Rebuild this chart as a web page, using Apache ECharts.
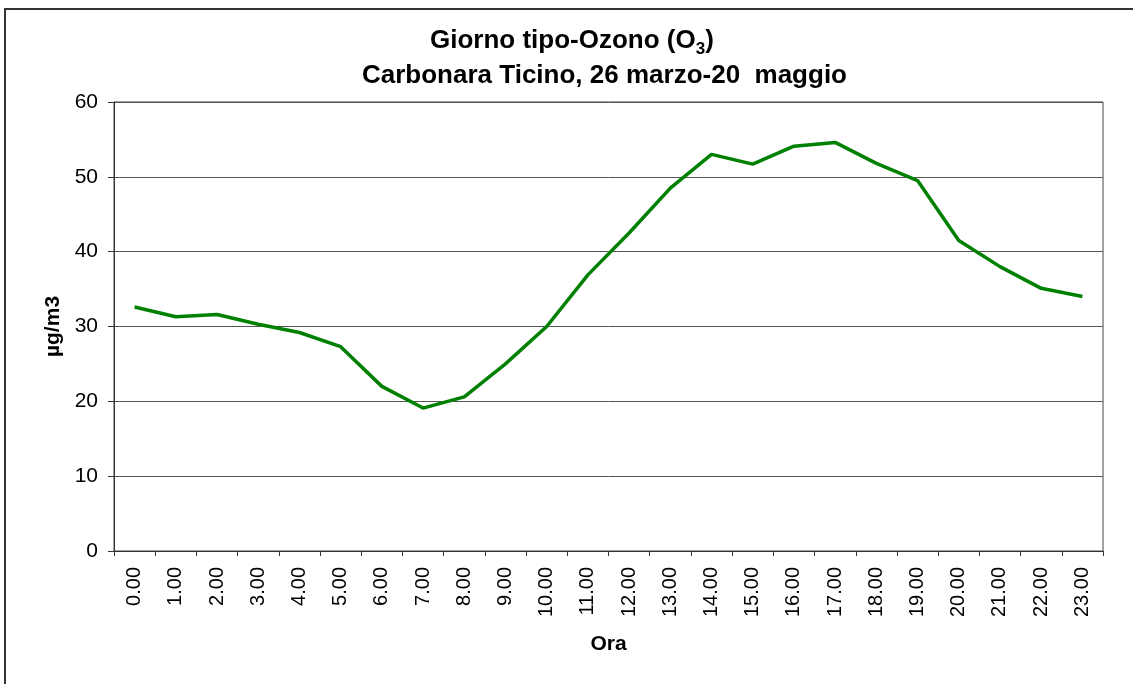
<!DOCTYPE html>
<html>
<head>
<meta charset="utf-8">
<title>Giorno tipo-Ozono</title>
<script src="https://cdn.jsdelivr.net/npm/echarts@6/dist/echarts.min.js"></script>
<style>
	html, body { margin: 0; padding: 0; background: #fff; }
	#chart { width: 1133px; height: 684px; }
</style>
</head>
<body>
<div id="chart"></div>
<script>
// ore del giorno
const hours = ['0.00', '1.00', '2.00', '3.00', '4.00', '5.00', '6.00', '7.00', '8.00', '9.00', '10.00', '11.00',
	'12.00', '13.00', '14.00', '15.00', '16.00', '17.00', '18.00', '19.00', '20.00', '21.00', '22.00', '23.00']
// concentrazione media oraria di ozono (µg/m3)
const ozone = [32.6, 31.3, 31.6, 30.3, 29.2, 27.3, 22.0, 19.1, 20.6, 25.0, 30.0, 36.9,
	42.5, 48.5, 53.0, 51.7, 54.1, 54.6, 51.8, 49.5, 41.5, 38.0, 35.1, 34.0]
const yTicks = { min: 0, max: 60, step: 10 }

const font = 'Liberation Sans, Arial, sans-serif'

const chart = echarts.init(document.getElementById('chart'))

const titleStyle = { fontSize: 26, fontWeight: 'bold', color: '#000', fontFamily: font, lineHeight: 35 }

chart.setOption({
	backgroundColor: '#fff',
	animation: false,
	textStyle: { fontFamily: font },
	title: {
		left: 357,
		top: 18,
		text: '{a1|Giorno tipo-Ozono (O}{s|3}{a|)}\n{a|Carbonara Ticino, 26 marzo-20  maggio}',
		textStyle: {
			rich: {
				a1: Object.assign({}, titleStyle, { padding: [0, 0, 0, 68] }),
				a: titleStyle,
				s: { fontSize: 17, fontWeight: 'bold', color: '#000', fontFamily: font, lineHeight: 28, verticalAlign: 'bottom' }
			}
		}
	},
	graphic: [{
		type: 'rect',
		silent: true,
		shape: { x: 5, y: 9, width: 1140, height: 700 },
		style: { fill: 'none', stroke: '#333', lineWidth: 2 }
	}],
	grid: {
		left: 114,
		right: 30,
		top: 102,
		bottom: 133,
		show: true,
		borderColor: '#444',
		borderWidth: 1
	},
	xAxis: {
		type: 'category',
		data: hours,
		boundaryGap: true,
		name: 'Ora',
		nameLocation: 'middle',
		nameGap: 83,
		nameTextStyle: { fontSize: 21, fontWeight: 'bold', color: '#000', fontFamily: font },
		axisLine: { lineStyle: { color: '#333', width: 1 } },
		axisTick: { show: true, interval: 0, length: 5, lineStyle: { color: '#333' } },
		axisLabel: { interval: 0, rotate: 90, margin: 16, fontSize: 20, color: '#000', fontFamily: font },
		splitLine: { show: false }
	},
	yAxis: {
		type: 'value',
		min: yTicks.min,
		max: yTicks.max,
		interval: yTicks.step,
		name: 'µg/m3',
		nameLocation: 'middle',
		nameRotate: 90,
		nameGap: 45,
		nameTextStyle: { fontSize: 21, fontWeight: 'bold', color: '#000', fontFamily: font },
		axisLine: { show: true, lineStyle: { color: '#333', width: 1 } },
		axisTick: { show: true, length: 6, lineStyle: { color: '#333' } },
		axisLabel: { margin: 16, fontSize: 21, color: '#000', fontFamily: font },
		splitLine: { show: true, lineStyle: { color: '#555', width: 1 } }
	},
	series: [{
		type: 'line',
		data: ozone,
		showSymbol: false,
		symbol: 'none',
		lineStyle: { color: '#008000', width: 3.5 },
		itemStyle: { color: '#008000' }
	}]
})
</script>
</body>
</html>
